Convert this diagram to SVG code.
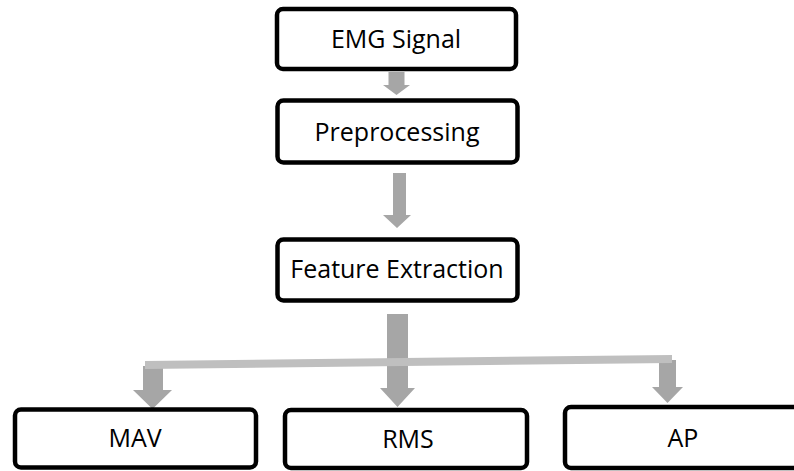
<svg xmlns="http://www.w3.org/2000/svg" width="794" height="471" viewBox="0 0 794 471">
<style>
.box{fill:#ffffff;stroke:#000000;stroke-width:4.5}
.lbl{font-family:"Open Sans","Liberation Sans",sans-serif;font-size:25px;fill:#000000;text-anchor:middle}
.arr{fill:#a6a6a6}
.bar{fill:#bfbfbf}
</style>
<rect width="794" height="471" fill="#ffffff"/>
<g id="connectors">
<polygon class="arr" points="388.5,72 404.5,72 404.5,85 410,85 396.5,95 383,85 388.5,85"/>
<polygon class="arr" points="393,173 406,173 406,215 411,215 397,228 383,215 393,215"/>
<polygon class="arr" points="387,314 408,314 408,388 415,388 397.5,407 380,388 387,388"/>
<polygon class="arr" points="143,366 163,366 163,390 172,390 152.5,409 133,390 143,390"/>
<polygon class="arr" points="659,360 676,360 676,387 683,387 667.5,403 652,387 659,387"/>
<polygon class="bar" points="145,361 672,355 672,363 145,369"/>
</g>
<g id="emg">
<rect class="box" x="277" y="9" width="239" height="60" rx="6"/>
<text class="lbl" x="396" y="48">EMG Signal</text>
</g>
<g id="preprocessing">
<rect class="box" x="277.5" y="100.5" width="240" height="62" rx="6"/>
<text class="lbl" x="397" y="141">Preprocessing</text>
</g>
<g id="feature">
<rect class="box" x="277.5" y="239.5" width="240" height="61" rx="6"/>
<text class="lbl" x="397" y="278">Feature Extraction</text>
</g>
<g id="mav">
<rect class="box" x="15" y="409.5" width="241" height="58" rx="6"/>
<text class="lbl" x="135" y="447">MAV</text>
</g>
<g id="rms">
<rect class="box" x="285" y="410" width="242" height="58" rx="6"/>
<text class="lbl" x="408" y="448">RMS</text>
</g>
<g id="ap">
<rect class="box" x="565" y="407" width="250" height="61" rx="6"/>
<text class="lbl" x="683" y="447">AP</text>
</g>
</svg>
